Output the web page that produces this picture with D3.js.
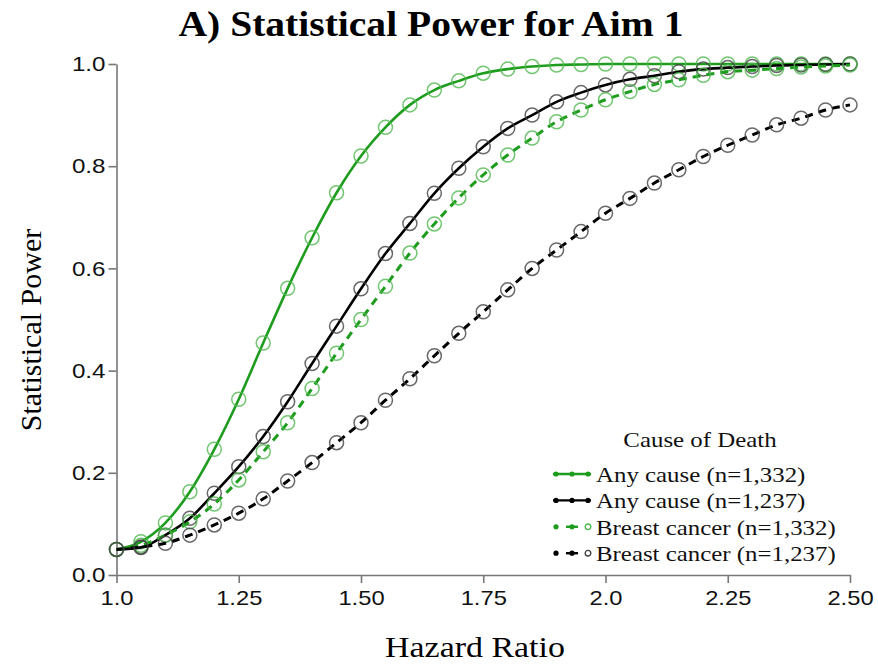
<!DOCTYPE html>
<html>
<head>
<meta charset="utf-8">
<script src="https://cdn.jsdelivr.net/npm/d3@7"></script>
<style>
  body { margin: 0; background: #fff; }
  svg { display: block; }
</style>
</head>
<body>
<div id="chart"></div>
<script>
// hazard ratios where power was evaluated
const hazardRatio = [1.00, 1.05, 1.10, 1.15, 1.20, 1.25, 1.30, 1.35, 1.40, 1.45, 1.50,
  1.55, 1.60, 1.65, 1.70, 1.75, 1.80, 1.85, 1.90, 1.95, 2.00,
  2.05, 2.10, 2.15, 2.20, 2.25, 2.30, 2.35, 2.40, 2.45, 2.50];

const anyCause1332 = [0.050, 0.065, 0.102, 0.163, 0.246, 0.344, 0.454, 0.561, 0.660, 0.748, 0.820,
  0.876, 0.920, 0.949, 0.967, 0.982, 0.990, 0.995, 0.998, 0.999, 1.000,
  1.000, 1.000, 1.000, 1.000, 1.000, 1.000, 1.000, 1.000, 1.000, 1.000];

const anyCause1237 = [0.050, 0.054, 0.078, 0.111, 0.160, 0.212, 0.271, 0.339, 0.414, 0.487, 0.560,
  0.629, 0.688, 0.747, 0.796, 0.838, 0.874, 0.900, 0.926, 0.944, 0.959,
  0.970, 0.977, 0.985, 0.990, 0.993, 0.995, 0.997, 0.998, 0.999, 1.000];

const breast1332 = [0.050, 0.058, 0.078, 0.104, 0.139, 0.186, 0.241, 0.298, 0.365, 0.434, 0.500,
  0.565, 0.630, 0.687, 0.738, 0.783, 0.822, 0.855, 0.887, 0.910, 0.930,
  0.946, 0.960, 0.969, 0.978, 0.985, 0.988, 0.991, 0.994, 0.996, 0.998];

const breast1237 = [0.050, 0.055, 0.062, 0.078, 0.098, 0.121, 0.149, 0.184, 0.220, 0.259, 0.298,
  0.342, 0.384, 0.429, 0.473, 0.515, 0.558, 0.600, 0.636, 0.672, 0.708,
  0.737, 0.767, 0.793, 0.819, 0.841, 0.861, 0.881, 0.894, 0.910, 0.920];

const seriesNames = ['Any cause (n=1,332)', 'Any cause (n=1,237)',
  'Breast cancer (n=1,332)', 'Breast cancer (n=1,237)'];

const xTicks = [1.0, 1.25, 1.5, 1.75, 2.0, 2.25, 2.5];
const xTickLabels = ['1.0', '1.25', '1.50', '1.75', '2.0', '2.25', '2.50'];
const yTicks = [0, 0.2, 0.4, 0.6, 0.8, 1.0];

const width = 878;
const height = 667;
const stretch = 1.13; // source image is a bit wider than tall

const green = '#1e9c1e';
const series = [
  { name: seriesNames[0], values: anyCause1332, line: green, marker: '#4fb84f', dash: null },
  { name: seriesNames[1], values: anyCause1237, line: '#000', marker: '#444', dash: null },
  { name: seriesNames[2], values: breast1332, line: green, marker: '#4fb84f', dash: '8,6' },
  { name: seriesNames[3], values: breast1237, line: '#000', marker: '#444', dash: '8,6' }
];

const svg = d3.select('#chart').append('svg')
  .attr('width', width)
  .attr('height', height);

const x = d3.scaleLinear().domain([1, 2.5]).range([116.5, 850]);
const y = d3.scaleLinear().domain([0, 1]).range([575, 64]);

// widen text to match the stretched look of the original
function widen(sel, k) {
  sel.each(function() {
    const len = this.getComputedTextLength();
    d3.select(this).attr('textLength', len * k).attr('lengthAdjust', 'spacingAndGlyphs');
  });
}

// title
svg.append('text')
  .attr('x', 431).attr('y', 36)
  .attr('text-anchor', 'middle')
  .style('font-family', '"Liberation Serif", "Times New Roman", serif')
  .style('font-weight', 'bold')
  .style('font-size', '35px')
  .text('A) Statistical Power for Aim 1')
  .call(widen, stretch);

// axes
const axisColor = '#777';
const xAxis = svg.append('g')
  .attr('transform', `translate(0, ${y(0)})`)
  .call(d3.axisBottom(x).tickValues(xTicks).tickFormat((d, i) => xTickLabels[i]).tickSize(8).tickSizeOuter(0));
xAxis.select('.domain').attr('stroke', axisColor).attr('stroke-width', 1.6);
xAxis.selectAll('.tick line').attr('stroke', axisColor).attr('stroke-width', 1.6);
xAxis.selectAll('.tick text')
  .attr('y', 15).attr('dy', '0.71em')
  .attr('fill', '#111')
  .style('font-family', '"Liberation Sans", Arial, sans-serif')
  .style('font-size', '21px')
  .call(widen, stretch);

const yAxis = svg.append('g')
  .attr('transform', `translate(${x(1)}, 0)`)
  .call(d3.axisLeft(y).tickValues(yTicks).tickFormat(d3.format('.1f')).tickSize(8).tickSizeOuter(0));
yAxis.select('.domain').attr('stroke', axisColor).attr('stroke-width', 1.6);
yAxis.selectAll('.tick line').attr('stroke', axisColor).attr('stroke-width', 1.6);
yAxis.selectAll('.tick text')
  .attr('x', -11)
  .attr('fill', '#111')
  .style('font-family', '"Liberation Sans", Arial, sans-serif')
  .style('font-size', '21px')
  .call(widen, 1.15);

// axis titles
svg.append('text')
  .attr('x', 475).attr('y', 657)
  .attr('text-anchor', 'middle')
  .style('font-family', '"Liberation Serif", "Times New Roman", serif')
  .style('font-size', '30px')
  .text('Hazard Ratio')
  .call(widen, stretch);

svg.append('text')
  .attr('transform', 'translate(41, 330) rotate(-90)')
  .attr('text-anchor', 'middle')
  .style('font-family', '"Liberation Serif", "Times New Roman", serif')
  .style('font-size', '30px')
  .text('Statistical Power');

// power curves with open circle markers
const line = d3.line()
  .x((d, i) => x(hazardRatio[i]))
  .y(d => y(d))
  .curve(d3.curveMonotoneX);

const g = svg.selectAll('.series')
  .data(series)
  .enter().append('g')
  .attr('class', 'series');

g.append('path')
  .attr('d', d => line(d.values))
  .attr('fill', 'none')
  .attr('stroke', d => d.line)
  .attr('stroke-width', d => d.dash ? 3 : 2.6)
  .attr('stroke-dasharray', d => d.dash);

g.selectAll('circle')
  .data(d => d.values.map((v, i) => ({ v: v, i: i, color: d.marker })))
  .enter().append('circle')
  .attr('cx', d => x(hazardRatio[d.i]))
  .attr('cy', d => y(d.v))
  .attr('r', 7)
  .attr('fill', 'none')
  .attr('stroke', d => d.color)
  .attr('stroke-opacity', 0.8)
  .attr('stroke-width', 1.5);

// legend
const legend = svg.append('g');
legend.append('text')
  .attr('x', 700).attr('y', 447)
  .attr('text-anchor', 'middle')
  .style('font-family', '"Liberation Serif", "Times New Roman", serif')
  .style('font-size', '22px')
  .attr('fill', '#111')
  .text('Cause of Death')
  .call(widen, stretch);

const item = legend.selectAll('.item')
  .data(series)
  .enter().append('g')
  .attr('class', 'item')
  .attr('transform', (d, i) => `translate(0, ${474 + i * 26.4})`);

item.each(function(d) {
  const it = d3.select(this);
  if (!d.dash) {
    it.append('line').attr('x1', 553).attr('x2', 591)
      .attr('stroke', d.line).attr('stroke-width', 2.4);
    [556, 572, 588].forEach(cx => {
      it.append('circle').attr('cx', cx).attr('r', 2.6).attr('fill', d.line);
    });
  } else {
    it.append('line').attr('x1', 566).attr('x2', 578)
      .attr('stroke', d.line).attr('stroke-width', 2.4);
    it.append('circle').attr('cx', 556).attr('r', 2.6).attr('fill', d.line);
    it.append('circle').attr('cx', 572).attr('r', 2.6).attr('fill', d.line);
    it.append('circle').attr('cx', 588).attr('r', 2.8)
      .attr('fill', '#fff').attr('stroke', d.marker).attr('stroke-width', 1.4);
  }
});

item.append('text')
  .attr('x', 596).attr('y', 8)
  .style('font-family', '"Liberation Serif", "Times New Roman", serif')
  .style('font-size', '22px')
  .attr('fill', '#111')
  .text(d => d.name)
  .call(widen, stretch);
</script>
</body>
</html>
